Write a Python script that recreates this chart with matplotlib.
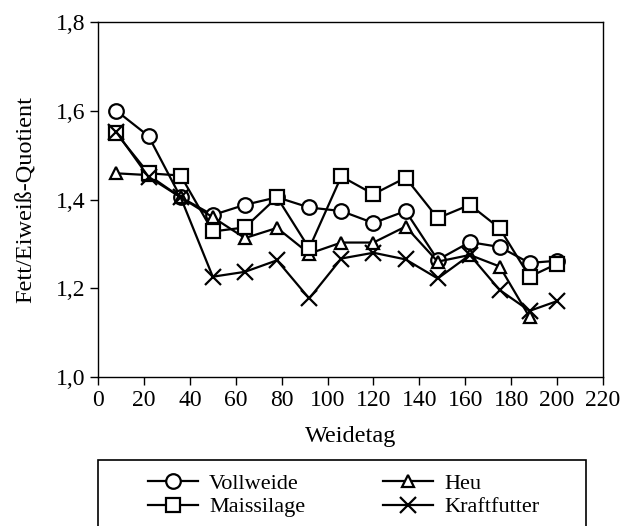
import matplotlib
matplotlib.use("Agg")
import matplotlib.pyplot as plt
from matplotlib.patches import Rectangle

plt.rcParams['font.family'] = ['Liberation Serif', 'DejaVu Serif']

# Weidetag
days = [8, 22, 36, 50, 64, 78, 92, 106, 120, 134, 148, 162, 175, 188, 200]
days_heu = days[:-1]

vollweide = [1.60, 1.543, 1.405, 1.365, 1.388, 1.405, 1.382, 1.374, 1.347, 1.374,
             1.264, 1.304, 1.293, 1.257, 1.262]
maissilage = [1.549, 1.459, 1.454, 1.328, 1.337, 1.405, 1.290, 1.452, 1.412, 1.449,
              1.358, 1.388, 1.335, 1.226, 1.255]
heu = [1.459, 1.455, 1.405, 1.360, 1.313, 1.336, 1.278, 1.303, 1.303, 1.339,
       1.260, 1.275, 1.249, 1.135]
kraftfutter = [1.552, 1.451, 1.405, 1.226, 1.237, 1.263, 1.177, 1.267, 1.280, 1.265,
               1.222, 1.275, 1.196, 1.149, 1.171]

xticks = list(range(0, 221, 20))
yticks = [1.0, 1.2, 1.4, 1.6, 1.8]
ytick_labels = ['1,0', '1,2', '1,4', '1,6', '1,8']

W, H = 633, 526
fig = plt.figure(figsize=(W / 100, H / 100), dpi=100)
ax = fig.add_axes([98 / W, 1 - 377 / H, 505 / W, 355 / H])

lw = 1.6
ax.plot(days, vollweide, color='black', lw=lw, marker='o', ms=10.5, mfc='white', mec='black', mew=1.6, label='Vollweide')
ax.plot(days_heu, heu, color='black', lw=lw, marker='^', ms=8, mfc='white', mec='black', mew=1.6, label='Heu')
ax.plot(days, maissilage, color='black', lw=lw, marker='s', ms=10, mfc='white', mec='black', mew=1.6, label='Maissilage')
ax.plot(days, kraftfutter, color='black', lw=lw, marker='x', ms=11, mec='black', mew=1.6, label='Kraftfutter')

ax.set_xlim(0, 220)
ax.set_ylim(1.0, 1.8)
ax.set_xticks(xticks)
ax.set_yticks(yticks)
ax.set_yticklabels(ytick_labels)
ax.tick_params(direction='out', length=6, labelsize=17, width=1, pad=3)
ax.set_xlabel('Weidetag', fontsize=17.5, labelpad=11)
ax.set_ylabel('Fett/Eiweiß-Quotient', fontsize=17.5, labelpad=14)
for s in ax.spines.values():
    s.set_linewidth(1)

# legend box, runs off the bottom edge
fig.patches.append(Rectangle((98 / W, -0.05), 488 / W, 0.05 + 1 - 460 / H,
                             transform=fig.transFigure, fill=False,
                             edgecolor='black', lw=1.2))

h, l = ax.get_legend_handles_labels()
order = [0, 2, 1, 3]
leg = fig.legend([h[i] for i in order], [l[i] for i in order], ncol=2,
                 loc='upper left', bbox_to_anchor=(148 / W, 1 - 473 / H),
                 frameon=False, fontsize=16, handlelength=2.25, handletextpad=0.5,
                 columnspacing=3.5, borderpad=0, borderaxespad=0, labelspacing=0.15)

fig.savefig('out.png', dpi=100)
